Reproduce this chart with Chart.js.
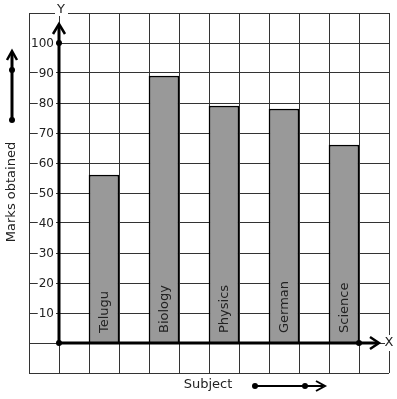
<!DOCTYPE html>
<html>
<head>
<meta charset="utf-8">
<script src="https://cdn.jsdelivr.net/npm/chart.js@4.4.0/dist/chart.umd.min.js"></script>
<style>
  html, body { margin: 0; padding: 0; background: #fff; }
</style>
</head>
<body>
<canvas id="chart1" width="397" height="399"></canvas>
<script>
let subjects = ['Telugu', 'Biology', 'Physics', 'German', 'Science'];
let marks = [56, 89, 79, 78, 66];
let yTicks = [10, 20, 30, 40, 50, 60, 70, 80, 90, 100];
let yTitle = 'Marks obtained';
let xTitle = 'Subject';

let font = '"DejaVu Sans", sans-serif';
let ink = '#222';

// each subject sits in its own column with one empty column after it
let points = subjects.map((s, i) => ({ x: 2 * i + 1.5, y: marks[i] }));

function dot(c, x, y) {
  c.beginPath();
  c.arc(x, y, 3, 0, Math.PI * 2);
  c.fill();
}

function line(c, pts, w) {
  c.lineWidth = w;
  c.beginPath();
  c.moveTo(pts[0][0], pts[0][1]);
  for (let i = 1; i < pts.length; i++) c.lineTo(pts[i][0], pts[i][1]);
  c.stroke();
}

let graphPaper = {
  id: 'graphPaper',
  afterDraw(chart) {
    let c = chart.ctx;
    let xs = chart.scales.x;
    let ys = chart.scales.y;
    let area = chart.chartArea;
    let ox = xs.getPixelForValue(0);
    let oy = ys.getPixelForValue(0);
    c.save();
    c.fillStyle = ink;
    c.strokeStyle = '#000';
    c.lineCap = 'butt';
    c.lineJoin = 'miter';

    // tick labels with a white box over the grid line
    c.font = '12px ' + font;
    c.textAlign = 'right';
    c.textBaseline = 'middle';
    yTicks.forEach(v => {
      let py = ys.getPixelForValue(v);
      let w = c.measureText(String(v)).width;
      c.fillStyle = '#fff';
      c.fillRect(ox - 6 - w, py - 6, w + 3, 12);
      c.fillStyle = ink;
      c.fillText(String(v), ox - 5, py + 1);
    });

    // axes with arrows
    c.fillStyle = '#000';
    line(c, [[ox, oy], [ox, area.top + 12]], 3);
    line(c, [[ox - 6, area.top + 21], [ox, area.top + 11], [ox + 6, area.top + 21]], 2.5);
    line(c, [[ox, oy], [area.right - 11, oy]], 3);
    line(c, [[area.right - 19, oy - 6], [area.right - 10, oy], [area.right - 19, oy + 6]], 2.5);
    dot(c, ox, oy);
    dot(c, ox, ys.getPixelForValue(100));
    dot(c, xs.getPixelForValue(10), oy);

    // axis letters
    c.font = '13px ' + font;
    c.textAlign = 'center';
    c.textBaseline = 'middle';
    c.fillStyle = '#fff';
    c.fillRect(ox - 4, area.top - 3, 13, 6);
    c.fillRect(area.right - 4, oy - 8, 8, 16);
    c.fillStyle = ink;
    c.fillText('Y', ox + 2, area.top - 3);
    c.fillText('X', area.right, oy);

    // subject names inside the bars
    c.textAlign = 'left';
    points.forEach((p, i) => {
      c.save();
      c.translate(xs.getPixelForValue(p.x), oy - 10);
      c.rotate(-Math.PI / 2);
      c.fillText(subjects[i], 0, 1);
      c.restore();
    });

    // y title and its arrow
    c.save();
    c.translate(12, 192);
    c.rotate(-Math.PI / 2);
    c.textAlign = 'center';
    c.fillText(yTitle, 0, 0);
    c.restore();
    c.fillStyle = '#000';
    line(c, [[12, 120], [12, 52]], 3);
    line(c, [[7, 60], [12, 51], [17, 60]], 2.5);
    dot(c, 12, 120);
    dot(c, 12, 70);

    // x title and its arrow
    c.fillStyle = ink;
    c.textAlign = 'center';
    c.fillText(xTitle, 208, 385);
    c.fillStyle = '#000';
    line(c, [[255, 386], [323, 386]], 2);
    line(c, [[316, 381], [325, 386], [316, 391]], 2);
    dot(c, 255, 386);
    dot(c, 305, 386);
    c.restore();
  }
};

let chart1 = new Chart(document.getElementById('chart1'), {
  type: 'bar',
  data: {
    datasets: [{
      data: points,
      backgroundColor: '#999999',
      borderColor: '#000',
      borderWidth: 1.5,
      barPercentage: 1,
      categoryPercentage: 1
    }]
  },
  options: {
    responsive: false,
    animation: false,
    layout: { padding: { left: 29, top: 13, right: 8, bottom: 26 } },
    plugins: {
      legend: { display: false },
      tooltip: { enabled: false }
    },
    scales: {
      x: {
        type: 'linear',
        min: -1,
        max: 11,
        offset: false,
        ticks: { display: false, stepSize: 1 },
        grid: { color: '#333', lineWidth: 1, drawTicks: false, offset: false },
        border: { display: false }
      },
      y: {
        min: -10,
        max: 110,
        ticks: { display: false, stepSize: 10 },
        grid: { color: '#333', lineWidth: 1, drawTicks: false },
        border: { display: false }
      }
    }
  },
  plugins: [graphPaper]
});
</script>
</body>
</html>
